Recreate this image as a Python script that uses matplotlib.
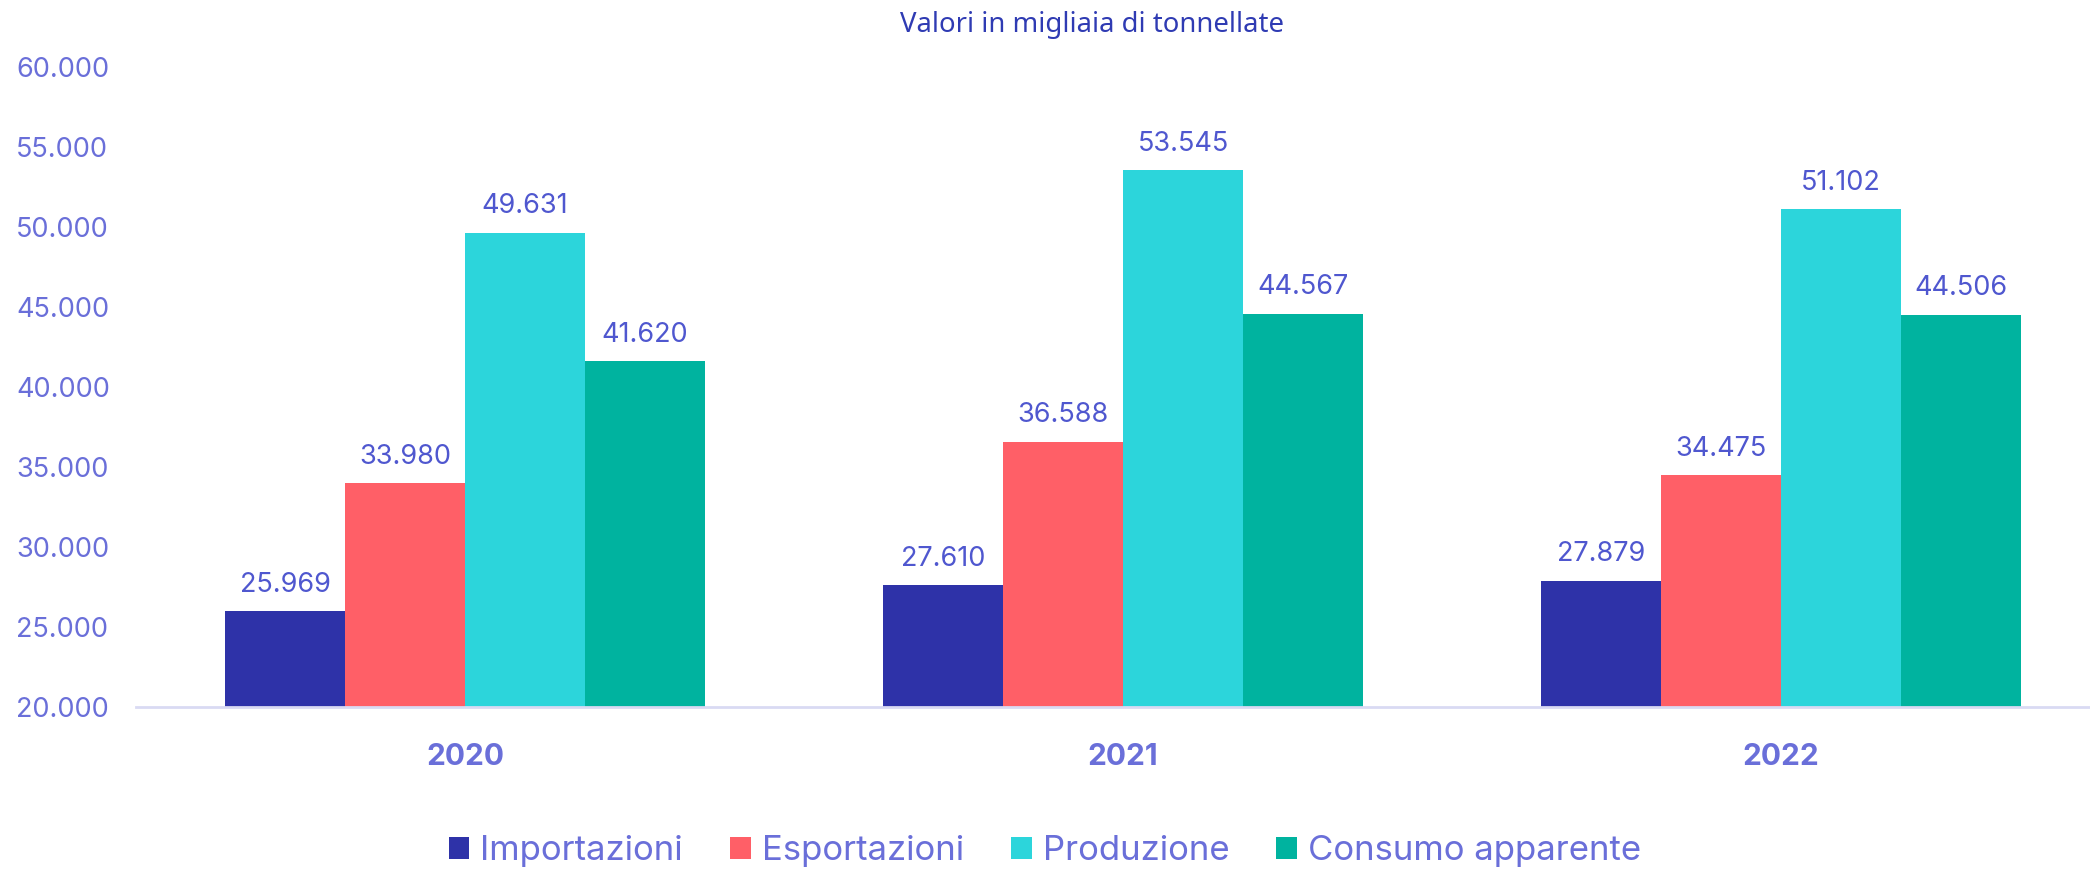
import matplotlib.pyplot as plt
from matplotlib.patches import Patch
import numpy as np

# Data (migliaia di tonnellate)
years = ['2020', '2021', '2022']
series_names = ['Importazioni', 'Esportazioni', 'Produzione', 'Consumo apparente']
importazioni = [25969, 27610, 27879]
esportazioni = [33980, 36588, 34475]
produzione = [49631, 53545, 51102]
consumo = [41620, 44567, 44506]
yticks = [20000, 25000, 30000, 35000, 40000, 45000, 50000, 55000, 60000]

colors = ['#2E32A8', '#FF5F67', '#2CD5DB', '#00B39F']
tick_color = '#6A6FD9'
label_color = '#4F57CF'
title_color = '#2F3BB3'

plt.rcParams['font.family'] = ['Inter', 'DejaVu Sans']

fig = plt.figure(figsize=(20.9, 8.72), dpi=100)
ax = fig.add_axes([136 / 2090, 1 - 707 / 872, 1 - 136 / 2090, (707 - 67) / 872])

x = np.arange(len(years))
w = 0.1824
all_series = [importazioni, esportazioni, produzione, consumo]
for i, (vals, name, c) in enumerate(zip(all_series, series_names, colors)):
    xs = x + (i - 1.5) * w
    bars = ax.bar(xs, np.array(vals) - 20000, width=w, bottom=20000, color=c, label=name)
    for xi, v in zip(xs, vals):
        ax.annotate(f'{v:,}'.replace(',', '.'), (xi, v), xytext=(0, 14),
                    textcoords='offset points', ha='center', va='baseline',
                    fontsize=19.5, color=label_color)

ax.set_xlim(-0.5, 2.4696)
ax.set_ylim(20000, 60000)
ax.set_yticks(yticks)
ax.set_yticklabels([f'{t:,}'.replace(',', '.') for t in yticks])
ax.set_xticks(x)
ax.set_xticklabels(years, fontweight='bold', fontsize=21.5)

for s in ['top', 'right', 'left']:
    ax.spines[s].set_visible(False)
ax.spines['bottom'].set_color('#D9DAF3')
ax.spines['bottom'].set_linewidth(2)
ax.tick_params(axis='y', length=0, labelsize=19.5, labelcolor=tick_color, pad=0)
ax.tick_params(axis='x', length=0, labelcolor=tick_color, pad=26)
for lbl in ax.get_yticklabels():
    lbl.set_horizontalalignment('left')
    lbl.set_x(-120 / (2090 - 136))

fig.text(0.5225, 1 - 25 / 872, 'Valori in migliaia di tonnellate', ha='center', va='center',
         fontsize=19.8, color=title_color, family=['Noto Sans', 'DejaVu Sans'])

handles = [Patch(facecolor=c, edgecolor='none') for c in colors]
leg = fig.legend(handles, series_names, loc='center', bbox_to_anchor=(0.5, 21 / 872),
                 ncol=4, frameon=False, fontsize=25, handlelength=0.6, handleheight=0.6,
                 handletextpad=0.32, columnspacing=1.35, borderpad=0, borderaxespad=0)
for t in leg.get_texts():
    t.set_color(tick_color)

fig.savefig('out.png', dpi=100)
